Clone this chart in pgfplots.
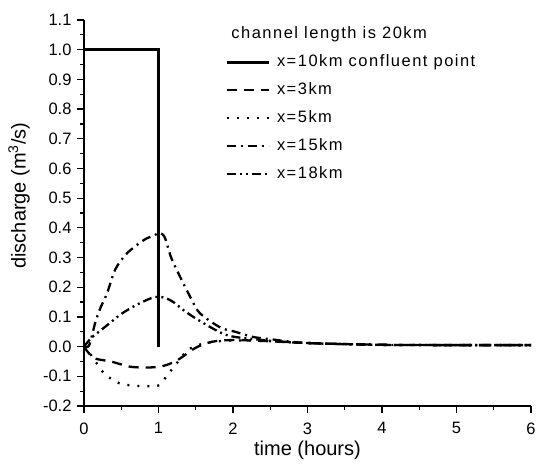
\documentclass[border=0pt]{standalone}
\usepackage{fontspec}
\setmainfont{Liberation Sans}
\usepackage{pgfplots}
\pgfplotsset{compat=1.18}
\begin{document}
\begin{tikzpicture}
\begin{axis}[
  scale only axis, width=447bp, height=386bp,
  xmin=0, xmax=6, ymin=-0.2, ymax=1.1,
  axis lines=left, axis line style={-, line width=1.5bp},
  tick style={line width=1.2bp, black},
  tick align=outside,
  major tick length=7bp, minor tick length=4bp,
  xtick={0,1,2,3,4,5,6}, minor xtick={0.5,1.5,2.5,3.5,4.5,5.5},
  ytick={-0.2,-0.1,0,0.1,0.2,0.3,0.4,0.5,0.6,0.7,0.8,0.9,1.0,1.1},
  minor ytick={-0.15,-0.05,0.05,0.15,0.25,0.35,0.45,0.55,0.65,0.75,0.85,0.95,1.05},
  yticklabel style={xshift=-2bp, /pgf/number format/.cd, fixed, fixed zerofill, precision=1},
  /pgf/number format/assume math mode=true,
  ticklabel style={font=\fontsize{16.5bp}{18bp}\selectfont},
  xticklabel style={yshift=-6bp},
  xlabel={time (hours)}, ylabel={discharge (m\textsuperscript{3}/s)},
  label style={font=\fontsize{20bp}{22bp}\selectfont},
  x label style={at={(axis description cs:0.5,-0.114)}, anchor=center},
  y label style={at={(axis description cs:-0.145,0.545)}, anchor=center},
  legend image code/.code={\draw[#1] (0bp,0bp) -- (42bp,0bp);},
  legend style={draw=none, fill=none, at={(rel axis cs:0.315,0.917)}, anchor=north west,
    font=\fontsize{16.5bp}{18bp}\selectfont\addfontfeatures{LetterSpace=9},
    row sep=8bp, inner sep=0pt,
    /tikz/every odd column/.append style={column sep=5bp},
    nodes={inner sep=2bp, text height=12bp, text depth=4bp}},
  legend cell align=left,
  clip=false,
]
\addplot[black, line width=3bp] coordinates {(0,1) (1,1) (1,0.5) (1,0)};
\addlegendentry{x=10km confluent point}
\addplot[black, line width=2.3bp, dash pattern=on 10bp off 7bp, smooth] coordinates {
(0,0) (0.13,-0.038) (0.36,-0.05) (0.63,-0.068) (0.9,-0.07) (1.05,-0.066) (1.17,-0.056) (1.29,-0.04) (1.49,-0.005) (1.71,0.016) (2.0,0.022) (2.5,0.018) (3,0.012) (4,0.006) (5,0.005) (6,0.005)};
\addlegendentry{x=3km}
\addplot[black, line width=2.3bp, dash pattern=on 2bp off 8bp, smooth] coordinates {
(0,0) (0.1,-0.03) (0.27,-0.09) (0.47,-0.123) (0.68,-0.132) (0.85,-0.133) (0.99,-0.132) (1.08,-0.109) (1.17,-0.08) (1.28,-0.045) (1.4,-0.01) (1.6,0.01) (1.9,0.02) (2.3,0.02) (3,0.012) (4,0.006) (5,0.005) (6,0.005)};
\addlegendentry{x=5km}
\addplot[black, line width=2.3bp, dash pattern=on 9bp off 5bp on 2bp off 5bp, smooth] coordinates {
(0,0) (0.07,0.005) (0.15,0.08) (0.22,0.13) (0.31,0.18) (0.42,0.26) (0.58,0.315) (0.81,0.36) (0.95,0.375) (1.0,0.383) (1.08,0.37) (1.17,0.3) (1.29,0.235) (1.4,0.18) (1.53,0.12) (1.67,0.09) (1.85,0.062) (2.03,0.05) (2.26,0.033) (2.5,0.025) (3,0.012) (4,0.006) (5,0.005) (6,0.005)};
\addlegendentry{x=15km}
\addplot[black, line width=2.3bp, dash pattern=on 9bp off 4bp on 2bp off 4bp on 2bp off 4bp, smooth] coordinates {
(0,0) (0.1,0.03) (0.2,0.05) (0.35,0.08) (0.5,0.11) (0.7,0.14) (0.9,0.163) (1.0,0.168) (1.1,0.163) (1.2,0.15) (1.35,0.12) (1.5,0.095) (1.7,0.065) (1.9,0.04) (2.1,0.03) (2.5,0.02) (3,0.012) (4,0.006) (5,0.005) (6,0.005)};
\addlegendentry{x=18km}
\node[anchor=west, font=\fontsize{16.5bp}{18bp}\selectfont\addfontfeatures{LetterSpace=9}] at (rel axis cs:0.322,0.964) {channel length is 20km};
\end{axis}
\pgfresetboundingbox
\path (-84bp,-58bp) rectangle (453bp,406bp);
\end{tikzpicture}
\end{document}
